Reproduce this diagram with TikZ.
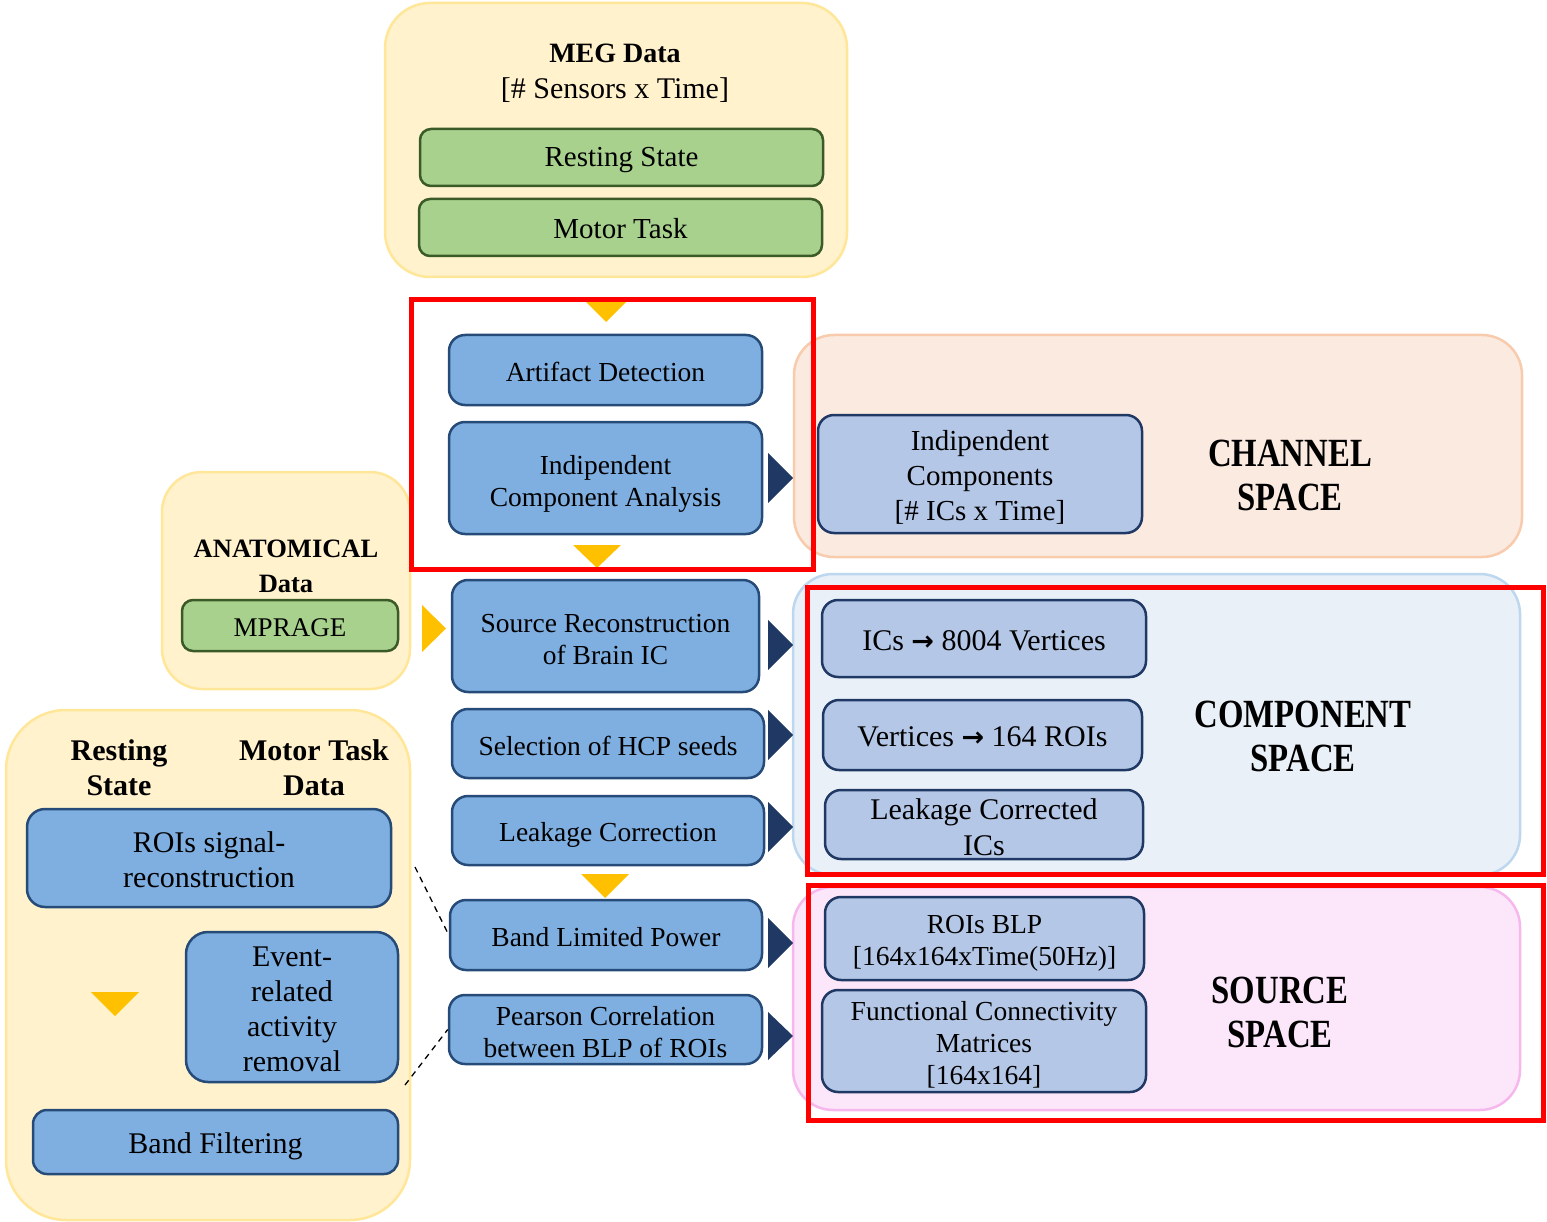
\documentclass[tikz,border=0pt]{standalone}
\usepackage{fontspec}
\setmainfont{Liberation Serif}
\newfontfamily\condbf{Liberation Serif}[FakeStretch=0.82]
\newfontfamily\arrowfont{DejaVu Sans}
\newcommand\fsA{\fontsize{27.5}{32}\selectfont}
\newcommand\fsB{\fontsize{29}{35}\selectfont}
\newcommand\fsC{\fontsize{30}{35}\selectfont}
\newcommand\fsG{\fontsize{29}{34}\selectfont}
\newcommand\fsR{\fontsize{30}{36}\selectfont}
\newcommand\fsS{\fontsize{27.5}{32}\selectfont}
\newcommand\rarr{{\arrowfont\bfseries\fontsize{27}{30}\selectfont →}}
\definecolor{yfill}{HTML}{FFF2CC}
\definecolor{ydraw}{HTML}{FFE699}
\definecolor{gfill}{HTML}{A9D18E}
\definecolor{gdraw}{HTML}{3A5A28}
\definecolor{bfill}{HTML}{7FAEE0}
\definecolor{bdraw}{HTML}{264B78}
\definecolor{lbfill}{HTML}{B4C7E7}
\definecolor{lbdraw}{HTML}{1F3864}
\definecolor{navy}{HTML}{203864}
\definecolor{gold}{HTML}{FFC000}
\definecolor{chfill}{HTML}{FBEAE0}
\definecolor{chdraw}{HTML}{F8CBAD}
\definecolor{cofill}{HTML}{E9F0F8}
\definecolor{codraw}{HTML}{BDD7EE}
\definecolor{sofill}{HTML}{FCE6FA}
\definecolor{sodraw}{HTML}{F6B8EC}
\definecolor{redline}{HTML}{FF0000}
\begin{document}
\begin{tikzpicture}[x=1pt,y=-1pt,
  outer/.style={draw=ydraw,fill=yfill,line width=2.5pt,inner sep=0pt},
  space/.style={line width=2.5pt,inner sep=0pt,rounded corners=40pt},
  gbox/.style={draw=gdraw,fill=gfill,line width=2.5pt,rounded corners=11pt,inner sep=0pt},
  bbox/.style={draw=bdraw,fill=bfill,line width=2.5pt,rounded corners=16pt,inner sep=0pt},
  lbox/.style={draw=lbdraw,fill=lbfill,line width=2.5pt,rounded corners=16pt,inner sep=0pt},
  txt/.style={inner sep=0pt,align=center},
  spacelbl/.style={inner sep=0pt,align=center,font=\condbf\bfseries\fontsize{40}{44}\selectfont},
  redbox/.style={draw=redline,line width=5pt},
  downtri/.style={fill=gold},
  navytri/.style={fill=navy}
]
\useasboundingbox (0,0) rectangle (1547,1222);

% ---------- outer containers ----------
\node[outer,rounded corners=45pt,minimum width=462pt,minimum height=274pt] (meg) at (616,140) {};
\node[outer,rounded corners=40pt,minimum width=248pt,minimum height=217pt] (anat) at (286,580.5) {};
\node[outer,rounded corners=60pt,minimum width=404pt,minimum height=510pt] (left) at (208,965) {};
\node[space,draw=chdraw,fill=chfill,minimum width=728pt,minimum height=222pt] (chan) at (1158,446) {};
\node[space,draw=codraw,fill=cofill,minimum width=727pt,minimum height=301pt] (comp) at (1156.5,724.5) {};
\node[space,draw=sodraw,fill=sofill,minimum width=727pt,minimum height=223pt] (srcsp) at (1156.5,998.5) {};

% ---------- MEG data ----------
\node[txt,anchor=base,font=\bfseries\fontsize{28}{32}\selectfont] (megt1) at (615,63) {MEG Data};
\node[txt,anchor=base,font=\fontsize{30}{34}\selectfont] (megt2) at (615,99) {{[}\# Sensors x Time{]}};
\node[gbox,minimum width=403pt,minimum height=57pt] (rs) at (621.5,157.5) {};
\node[txt,font=\fsG] (rs-t) at ([yshift=-2.5pt]rs.center) {Resting State};
\node[gbox,minimum width=403pt,minimum height=57pt] (mt) at (620.5,227.5) {};
\node[txt,font=\fsG] (mt-t) at ([yshift=-1.5pt]mt.center) {Motor Task};

% ---------- anatomical ----------
\node[txt,font=\bfseries\fontsize{26.5}{35}\selectfont] (anatt) at (286,566) {ANATOMICAL\\Data};
\node[gbox,minimum width=216pt,minimum height=51pt] (mprage) at (290,625.5) {};
\node[txt,font=\fontsize{27}{32}\selectfont] (mprage-t) at ([yshift=-2pt]mprage.center) {MPRAGE};

% ---------- central pipeline ----------
\node[bbox,minimum width=313pt,minimum height=70pt] (art) at (605.5,370) {};
\node[txt,font=\fsA] (art-t) at ([yshift=-1.5pt]art.center) {Artifact Detection};
\node[bbox,minimum width=313pt,minimum height=112pt] (ica) at (605.5,478) {};
\node[txt,font=\fsA] (ica-t) at ([yshift=-6pt]ica.center) {Indipendent\\Component Analysis};
\node[bbox,minimum width=307pt,minimum height=112pt] (src) at (605.5,636) {};
\node[txt,font=\fsA] (src-t) at ([yshift=-3.5pt]src.center) {Source Reconstruction\\of Brain IC};
\node[bbox,minimum width=312pt,minimum height=69pt] (hcp) at (608,743.5) {};
\node[txt,font=\fsA] (hcp-t) at ([yshift=-2.5pt]hcp.center) {Selection of HCP seeds};
\node[bbox,minimum width=312pt,minimum height=69pt] (leak) at (608,830.5) {};
\node[txt,font=\fsA] (leak-t) at ([yshift=-4.5pt]leak.center) {Leakage Correction};
\node[bbox,minimum width=312pt,minimum height=70pt] (blp) at (606,935) {};
\node[txt,font=\fsA] (blp-t) at ([yshift=-2.5pt]blp.center) {Band Limited Power};
\node[bbox,minimum width=313pt,minimum height=69pt] (pear) at (605.5,1029.5) {};
\node[txt,font=\fsA] (pear-t) at ([yshift=-3pt]pear.center) {Pearson Correlation\\between BLP of ROIs};

% ---------- channel space ----------
\node[lbox,minimum width=324pt,minimum height=118pt] (icbox) at (980,474) {};
\node[txt,font=\fsB] (icbox-t) at ([yshift=-3pt]icbox.center) {Indipendent\\Components\\{[}\# ICs x Time{]}};
\node[spacelbl] (chlbl) at (1290,475) {CHANNEL\\SPACE};

% ---------- component space ----------
\node[lbox,minimum width=324pt,minimum height=77pt] (v8004) at (984,638.5) {};
\node[txt,font=\fsR] (v8004-t) at ([yshift=-2pt]v8004.center) {ICs \rarr{} 8004 Vertices};
\node[lbox,minimum width=319pt,minimum height=70pt] (roi164) at (982.5,735) {};
\node[txt,font=\fsR] (roi164-t) at ([yshift=-2pt]roi164.center) {Vertices \rarr{} 164 ROIs};
\node[lbox,minimum width=318pt,minimum height=69pt] (lcic) at (984,824.5) {};
\node[txt,font=\fsR] (lcic-t) at ([yshift=-2.5pt]lcic.center) {Leakage Corrected\\ICs};
\node[spacelbl] (colbl) at (1303,736) {COMPONENT\\SPACE};

% ---------- source space ----------
\node[lbox,minimum width=319pt,minimum height=83pt] (roiblp) at (984.5,938.5) {};
\node[txt,font=\fsS] (roiblp-t) at ([yshift=-5pt]roiblp.center) {ROIs BLP\\{[}164x164xTime(50Hz){]}};
\node[lbox,minimum width=324pt,minimum height=102pt] (fcm) at (984,1041) {};
\node[txt,font=\fsS] (fcm-t) at ([yshift=-4pt]fcm.center) {Functional Connectivity\\Matrices\\{[}164x164{]}};
\node[spacelbl] (solbl) at (1280,1012) {SOURCE\\SPACE};

% ---------- bottom-left detail ----------
\node[txt,font=\bfseries\fontsize{30}{35}\selectfont] (lrs) at (119,768) {Resting\\State};
\node[txt,font=\bfseries\fontsize{30}{35}\selectfont] (lmt) at (314,768) {Motor Task\\Data};
\node[bbox,rounded corners=18pt,minimum width=364pt,minimum height=98pt] (roisig) at (209,858) {};
\node[txt,font=\fsC] (roisig-t) at ([yshift=-1.5pt]roisig.center) {ROIs signal-\\reconstruction};
\node[bbox,rounded corners=22pt,minimum width=212pt,minimum height=150pt] (event) at (292,1007) {};
\node[txt,font=\fsC] (event-t) at ([yshift=-2pt]event.center) {Event-\\related\\activity\\removal};
\node[bbox,rounded corners=14pt,minimum width=365pt,minimum height=64pt] (bandf) at (215.5,1142) {};
\node[txt,font=\fsC] (bandf-t) at ([yshift=-4.5pt]bandf.center) {Band Filtering};
\fill[downtri] (91,992) -- (139,992) -- (115,1016) -- cycle;

% ---------- dashed callout lines ----------
\coordinate (d1) at (415,867);
\coordinate (d2) at (405,1085);
\draw[line width=1.3pt,dash pattern=on 6pt off 5pt] (d1) -- (blp.west);
\draw[line width=1.3pt,dash pattern=on 6pt off 5pt] (d2) -- (pear.west);

% ---------- flow triangles ----------
\fill[downtri] (584,300) -- (628,300) -- (606,322) -- cycle;
\fill[downtri] (573,545) -- (621,545) -- (597,568) -- cycle;
\fill[downtri] (581,874) -- (629,874) -- (605,898) -- cycle;
\fill[downtri] (422,605) -- (422,652) -- (446,628.5) -- cycle;
\fill[navytri] (768,453) -- (768,503) -- (793,478) -- cycle;
\fill[navytri] (768,620) -- (768,670) -- (793,645) -- cycle;
\fill[navytri] (768,710) -- (768,760) -- (793,735) -- cycle;
\fill[navytri] (768,802) -- (768,852) -- (793,827) -- cycle;
\fill[navytri] (768,918) -- (768,968) -- (793,943) -- cycle;
\fill[navytri] (768,1012) -- (768,1060) -- (793,1036) -- cycle;

% ---------- red highlight frames ----------
\draw[redbox] (411.5,299.5) rectangle (813.5,569.5);
\draw[redbox] (807.5,587.5) rectangle (1543,874.5);
\draw[redbox] (808,885.5) rectangle (1543,1120.5);
\end{tikzpicture}
\end{document}
